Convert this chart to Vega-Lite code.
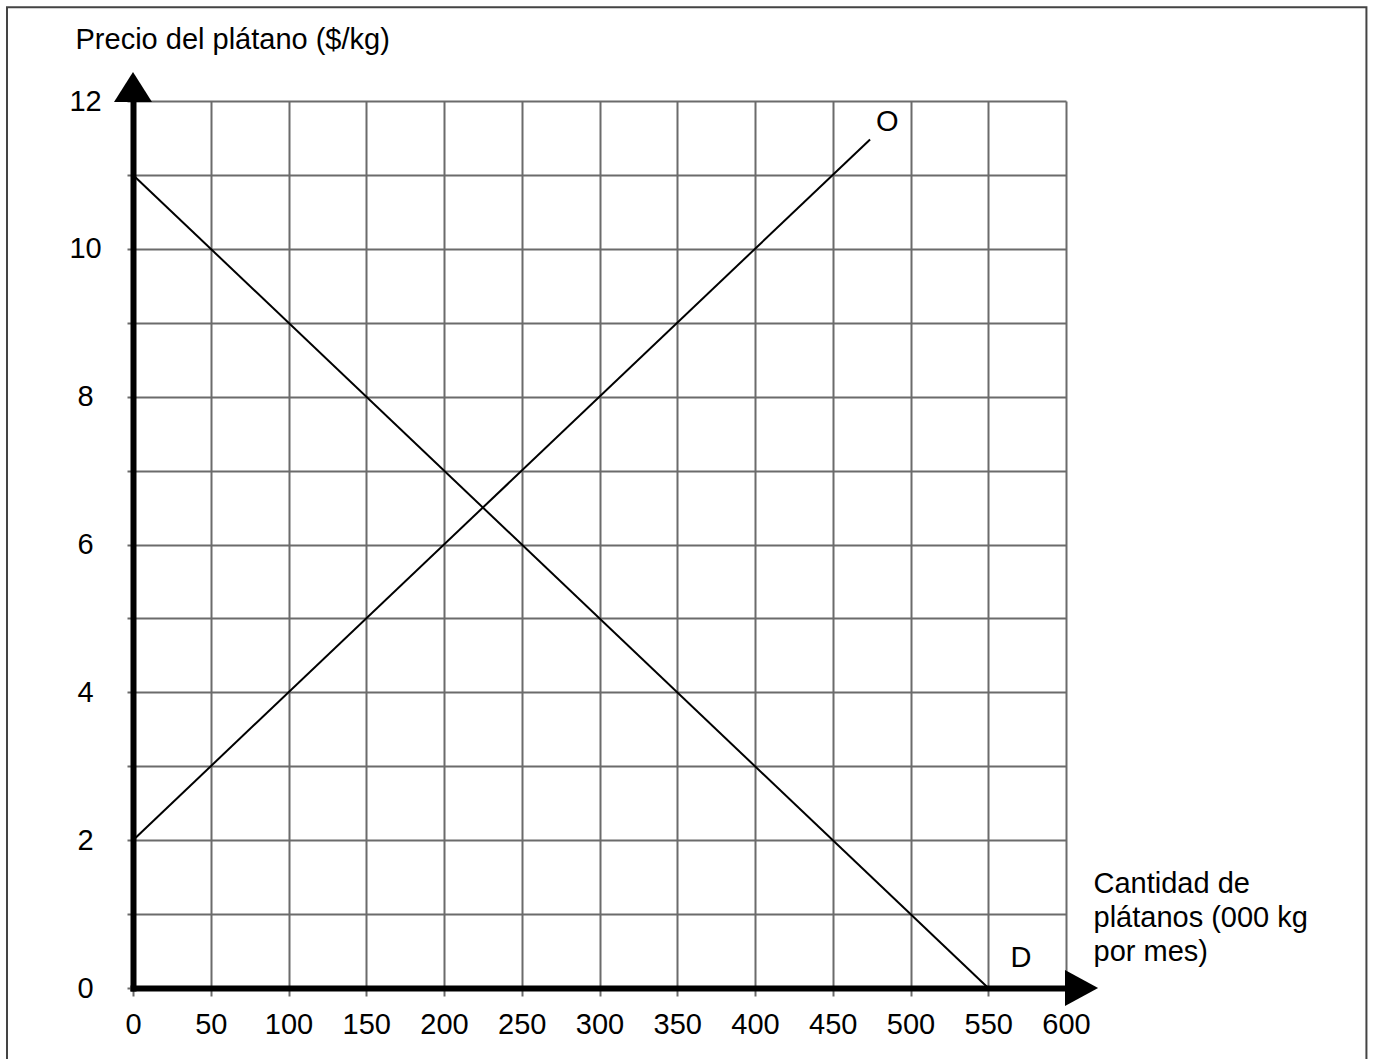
{
  "$schema": "https://vega.github.io/schema/vega-lite/v6.json",
  "width": 933,
  "height": 887,
  "autosize": {"type": "none"},
  "padding": {"left": 133, "top": 101, "right": 307, "bottom": 71},
  "background": "white",
  "config": {"view": {"stroke": null}, "font": "Liberation Sans"},
  "datasets": {
    "curves": [
      {"curve": "O", "q": 0, "p": 2},
      {"curve": "O", "q": 474, "p": 11.48},
      {"curve": "D", "q": 0, "p": 11},
      {"curve": "D", "q": 550, "p": 0}
    ],
    "labels": [
      {"label": "O", "q": 485, "p": 11.72},
      {"label": "D", "q": 571, "p": 0.41}
    ],
    "one": [{}]
  },
  "layer": [
    {
      "data": {"name": "curves"},
      "mark": {"type": "line", "color": "black", "strokeWidth": 2, "clip": false},
      "encoding": {
        "x": {
          "field": "q", "type": "quantitative",
          "scale": {"domain": [0, 600], "nice": false, "zero": false},
          "axis": {
            "values": [0, 50, 100, 150, 200, 250, 300, 350, 400, 450, 500, 550, 600],
            "format": "d",
            "title": ["Cantidad de", "plátanos (000 kg", "por mes)"],
            "titleX": 960, "titleY": -96,
            "titleAlign": "left", "titleBaseline": "alphabetic",
            "titleLineHeight": 34, "titleFontSize": 29, "titleFontWeight": "normal",
            "titleColor": "black", "titleFont": "Liberation Sans",
            "labelFontSize": 29, "labelColor": "black", "labelFont": "Liberation Sans",
            "labelPadding": 14, "labelFlush": false, "labelOverlap": false,
            "tickSize": 8, "tickColor": "#6b6b6b", "tickWidth": 2,
            "grid": true, "gridColor": "#6b6b6b", "gridWidth": 2, "gridOpacity": 1,
            "domainColor": "black", "domainWidth": 6, "domainCap": "square"
          }
        },
        "y": {
          "field": "p", "type": "quantitative",
          "scale": {"domain": [0, 12], "nice": false, "zero": false},
          "axis": {
            "values": [0, 1, 2, 3, 4, 5, 6, 7, 8, 9, 10, 11, 12],
            "format": "d",
            "labelExpr": "datum.value % 2 === 0 ? datum.label : ''",
            "title": "Precio del plátano ($/kg)",
            "titleAngle": 0, "titleX": -58, "titleY": -53,
            "titleAlign": "left", "titleBaseline": "alphabetic",
            "titleFontSize": 29, "titleFontWeight": "normal", "titleColor": "black",
            "titleFont": "Liberation Sans",
            "labelFontSize": 29, "labelColor": "black", "labelFont": "Liberation Sans",
            "labelAlign": "center", "labelBaseline": "middle", "labelPadding": 42,
            "labelFlush": false, "labelOverlap": false,
            "tickSize": 6, "tickColor": "#6b6b6b", "tickWidth": 2,
            "grid": true, "gridColor": "#6b6b6b", "gridWidth": 2, "gridOpacity": 1,
            "domainColor": "black", "domainWidth": 6, "domainCap": "square"
          }
        },
        "detail": {"field": "curve", "type": "nominal"}
      }
    },
    {
      "data": {"name": "labels"},
      "mark": {"type": "text", "fontSize": 29, "font": "Liberation Sans", "color": "black", "align": "center", "baseline": "middle"},
      "encoding": {
        "x": {"field": "q", "type": "quantitative"},
        "y": {"field": "p", "type": "quantitative"},
        "text": {"field": "label"}
      }
    },
    {
      "data": {"name": "one"},
      "mark": {"type": "rect", "fill": "white", "fillOpacity": 0, "stroke": "#444444", "strokeWidth": 2, "clip": false},
      "encoding": {
        "x": {"datum": -81.03, "type": "quantitative"},
        "x2": {"datum": 793.2},
        "y": {"datum": 13.27, "type": "quantitative"},
        "y2": {"datum": -1.5}
      }
    },
    {
      "data": {"name": "one"},
      "mark": {"type": "point", "shape": "M0,-0.79L1,0.79L-1,0.79Z", "size": 1444, "filled": true, "color": "black", "opacity": 1, "clip": false},
      "encoding": {
        "x": {"datum": 0, "type": "quantitative"},
        "y": {"datum": 12.19, "type": "quantitative"}
      }
    },
    {
      "data": {"name": "one"},
      "mark": {"type": "point", "shape": "M0.92,0L-0.92,1L-0.92,-1Z", "size": 1296, "filled": true, "color": "black", "opacity": 1, "clip": false},
      "encoding": {
        "x": {"datum": 610, "type": "quantitative"},
        "y": {"datum": 0, "type": "quantitative"}
      }
    }
  ]
}
